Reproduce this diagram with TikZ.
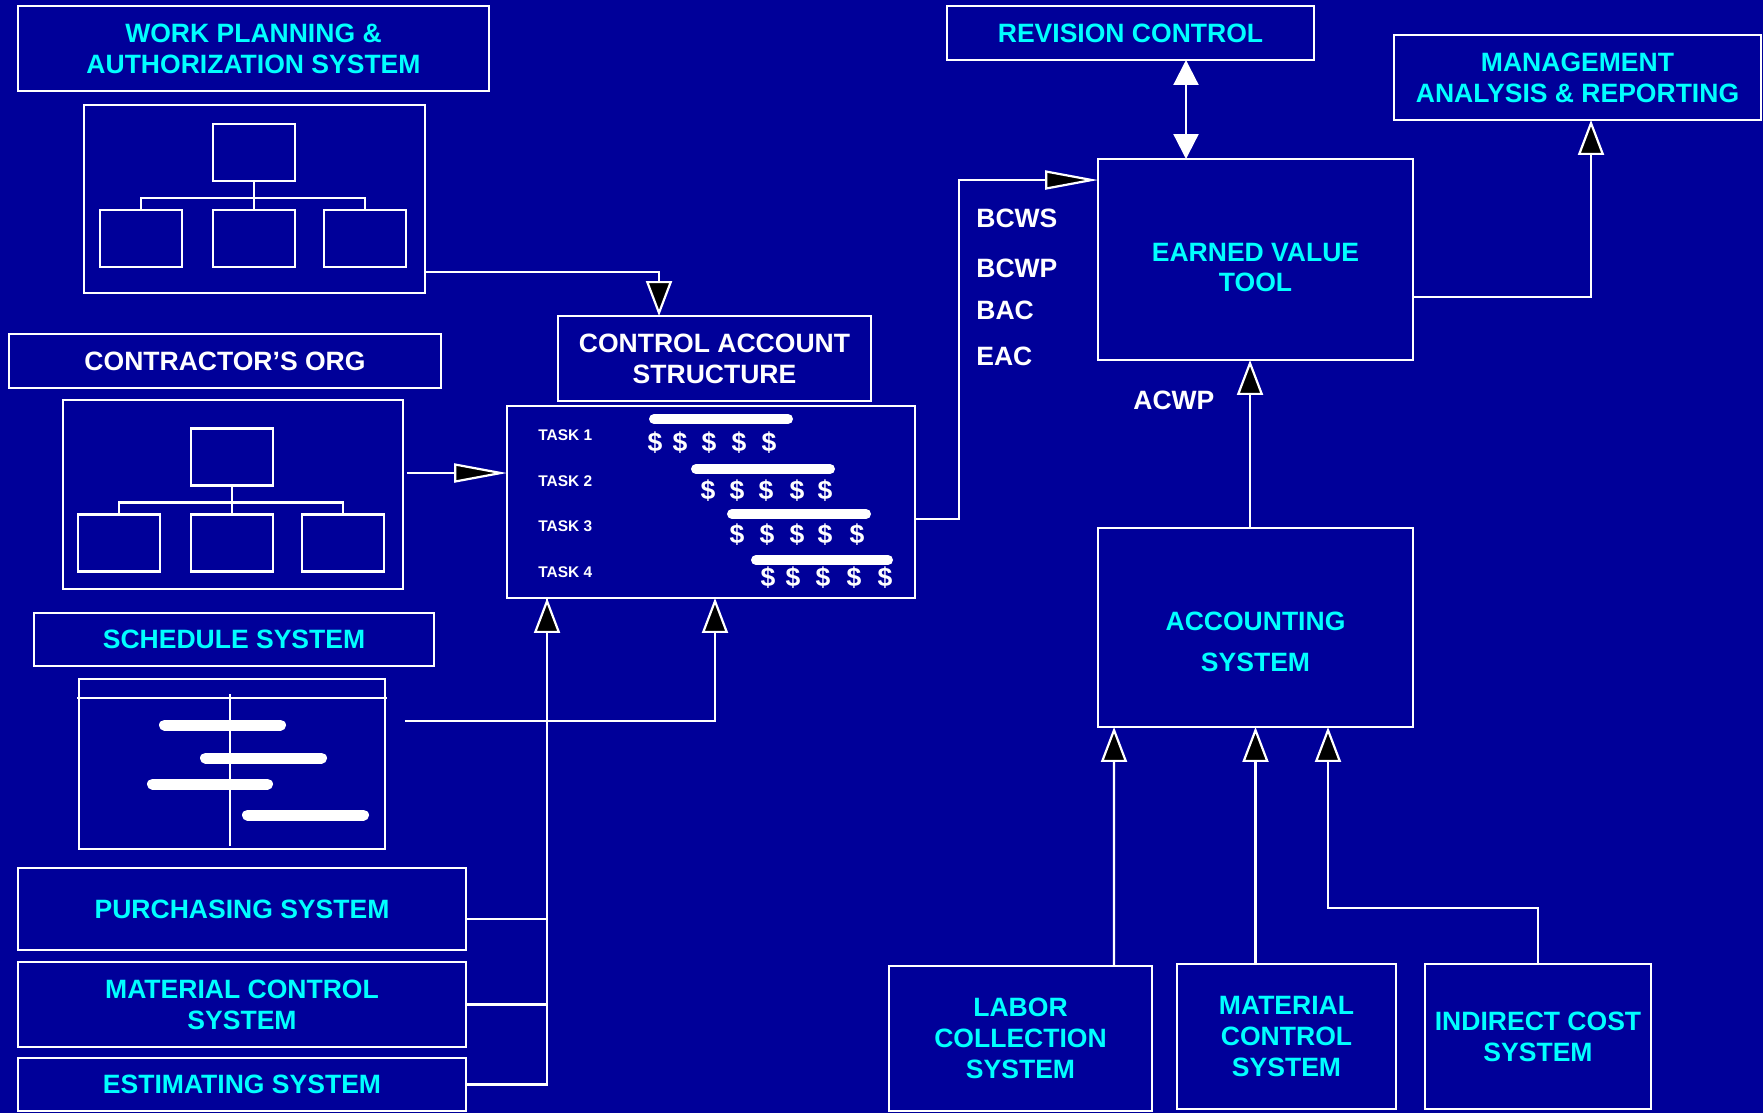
\documentclass[tikz,border=0pt]{standalone}
\usepackage{fontspec}
\setmainfont{Liberation Sans}
\usepackage{tikz}
\usetikzlibrary{arrows.meta,positioning}
\definecolor{azulFondo}{RGB}{0,0,153}
\definecolor{cian}{RGB}{0,255,255}
\tikzstyle{txt}   =[text=cian, align=center,
                    font=\bfseries\fontsize{15.1}{17.6}\selectfont]
\tikzstyle{wtxt}  =[txt, text=white]
\tikzstyle{tasktxt}=[wtxt, inner sep=0pt, font=\bfseries\fontsize{8.8}{10}\selectfont]
\tikzstyle{box}   =[draw=white, line width=1.25pt, inner sep=0pt,
                    outer sep=0pt]
\tikzstyle{title} =[box, txt]
\tikzstyle{wtitle}=[box, wtxt]
\tikzstyle{wire}  =[draw=white, line width=1.25pt]
\tikzstyle{arr}   =[wire, -{Triangle[length=0.7cm, width=0.52cm, fill=black]}]
\tikzstyle{longarr}=[wire, -{Triangle[length=1.06cm, width=0.38cm, fill=black]}]
\tikzstyle{dblarr}=[wire, {Triangle[length=0.5cm, width=0.5cm]}-{Triangle[length=0.5cm, width=0.5cm]}]
\tikzstyle{bar}   =[draw=white, line width=0.2cm, line cap=round]

\begin{document}
\begin{tikzpicture}[x=0.02cm, y=-0.02cm]
    \path[use as bounding box, fill=azulFondo] (0,0) rectangle (1763,1113);

    % left column
    \node[title, minimum width=9.42cm, minimum height=1.7cm] (wpa) at (253.5,48.5)
        {WORK PLANNING \&\\AUTHORIZATION SYSTEM};
    \node[box, minimum width=6.82cm, minimum height=3.76cm] (wpachart) at (254.5,199) {};
    \node[wtitle, minimum width=8.64cm, minimum height=1.08cm] (corg) at (225,361)
        {CONTRACTOR’S ORG};
    \node[box, minimum width=6.8cm, minimum height=3.78cm] (corgchart) at (233,494.5) {};
    \node[title, minimum width=8cm, minimum height=1.06cm] (sched) at (234,639.5)
        {SCHEDULE SYSTEM};
    \node[box, minimum width=6.12cm, minimum height=3.4cm] (gantt) at (232,764) {};
    \node[title, minimum width=8.96cm, minimum height=1.64cm] (purch) at (242,909)
        {PURCHASING SYSTEM};
    \node[title, minimum width=8.96cm, minimum height=1.7cm] (matl) at (242,1004.5)
        {MATERIAL CONTROL\\SYSTEM};
    \node[title, minimum width=8.96cm, minimum height=1.06cm] (est) at (242,1084.5)
        {ESTIMATING SYSTEM};

    % org chart icons
    \foreach \cx/\cy in {254/152, 232/456.5}{
        \draw[wire] (\cx-41,\cy-28) rectangle ++(82,57);
        \draw[wire] (\cx,\cy+29) -- (\cx,\cy+59);
        \draw[wire] (\cx-113,\cy+58) -- (\cx-113,\cy+46) -- (\cx+111,\cy+46) -- (\cx+111,\cy+58);
        \foreach \dx in {-113,0,111}
            \draw[wire] (\cx+\dx-41,\cy+58) rectangle ++(82,57);
    }

    % gantt icon
    \draw[wire] (77,698) -- (387,698);
    \draw[wire] (230,694) -- (230,846);
    \foreach \a/\b/\y in {159/286/725, 200/327/758, 147/273/784, 242/369/815}
        \draw[bar, line width=0.22cm] (\a+5.5,\y) -- (\b-5.5,\y);

    % control account
    \node[wtitle, minimum width=6.26cm, minimum height=1.7cm] (cas) at (714.5,358.5)
        {CONTROL ACCOUNT\\STRUCTURE};
    \node[box, minimum width=8.16cm, minimum height=3.84cm] (taskbox) at (711,502) {};
    \foreach \y [count=\i] in {435,481,526,572}
        \node[tasktxt, anchor=west] (task\i) at (538,\y) {TASK \i};
    \foreach \a/\b/\y in {649/793/419, 691/835/469, 727/871/514, 751/893/560}
        \draw[bar] (\a+5,\y) -- (\b-5,\y);
    \foreach \y/\xs [count=\i] in {443/{655,680,709,739,769},491/{708,737,766,797,825},
                                   535/{737,767,797,825,857},578/{768,793,823,854,885}}
        \foreach \x [count=\k] in \xs
            \node[wtxt, inner sep=0pt] (d\i\k) at (\x,\y) {\$};

    % right column
    \node[title, minimum width=7.34cm, minimum height=1.08cm] (rev) at (1130.5,33)
        {REVISION CONTROL};
    \node[title, minimum width=7.34cm, minimum height=1.7cm] (mgmt) at (1577.5,77.5)
        {MANAGEMENT\\ANALYSIS \& REPORTING};
    \node[box, minimum width=6.3cm, minimum height=4.02cm,
          label={[txt, yshift=-0.16cm]center:EARNED VALUE\\TOOL}] (ev) at (1255.5,259.5) {};
    \node[box, minimum width=6.3cm, minimum height=3.98cm,
          label={[txt, yshift=-0.28cm]center:ACCOUNTING\\[0.2cm]SYSTEM}] (acct) at (1255.5,627.5) {};
    \node[title, minimum width=5.26cm, minimum height=2.9cm] (labor) at (1020.5,1038.5)
        {LABOR\\COLLECTION\\SYSTEM};
    \node[title, minimum width=4.38cm, minimum height=2.9cm] (matr) at (1286.5,1036.5)
        {MATERIAL\\CONTROL\\SYSTEM};
    \node[title, minimum width=4.52cm, minimum height=2.9cm] (ind) at (1538,1036.5)
        {INDIRECT COST\\SYSTEM};

    \node[wtxt, inner sep=0pt, anchor=west] (bcws) at (976,218) {BCWS};
    \node[wtxt, inner sep=0pt, anchor=west] (bcwp) at (976,268) {BCWP};
    \node[wtxt, inner sep=0pt, anchor=west] (bac)  at (976,310) {BAC};
    \node[wtxt, inner sep=0pt, anchor=west] (eac)  at (976,356) {EAC};
    \node[wtxt, inner sep=0pt, anchor=west] (acwp) at (1133,400) {ACWP};

    % connectors
    \coordinate (bus) at ([xshift=-3.28cm]taskbox.south);
    \draw[wire] ([yshift=-0.2cm]purch.east) -| (bus);
    \draw[wire] (matl.east) -| (bus);
    \draw[arr] ([shift={(0.4cm,0.86cm)}]gantt.east) -| ([xshift=0.08cm]taskbox.south);
    \draw[arr] (est.east) -| (bus);
    \draw[arr] ([yshift=0.42cm]wpachart.south east) -| ([xshift=-1.11cm]cas.north);
    \draw[longarr] ([shift={(0.08cm,0.43cm)}]corgchart.east) coordinate (ca) -- (taskbox.west |- ca);
    \draw[longarr] ([yshift=-0.34cm]taskbox.east) -- ++(44,0) |- ([yshift=1.59cm]ev.west);

    \coordinate (rv) at ([xshift=1.11cm]rev.south);
    \draw[dblarr] (rv) -- (rv |- ev.north);
    \draw[arr] ([yshift=-0.75cm]ev.east) -| ([xshift=0.27cm]mgmt.south);
    \draw[arr] ([xshift=-0.11cm]acct.north) -- ([xshift=-0.11cm]ev.south);
    \draw[arr] ([xshift=1.87cm]labor.north) -- ([xshift=-2.83cm]acct.south);
    \draw[arr] (matr.north -| acct.south) -- (acct.south);
    \draw[arr] (ind.north) -- ++(0,-56) -| ([xshift=1.45cm]acct.south);
\end{tikzpicture}
\end{document}
